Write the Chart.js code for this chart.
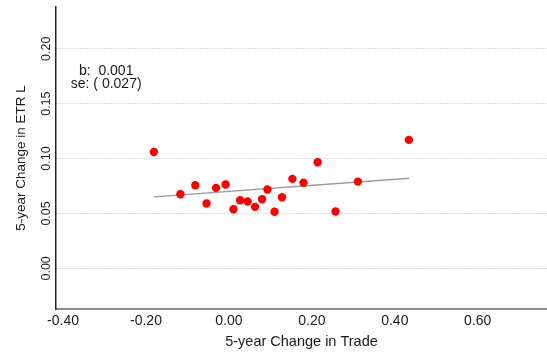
<!DOCTYPE html>
<html>
<head>
<meta charset="utf-8">
<script src="https://cdn.jsdelivr.net/npm/chart.js@4/dist/chart.umd.min.js"></script>
<style>
  html, body { margin: 0; padding: 0; background: #fff; }
  #wrap { width: 547px; height: 352px; position: relative; }
</style>
</head>
<body>
<div id="wrap"><canvas id="c" width="547" height="352"></canvas></div>
<script>
// 5-year change in trade (x) vs 5-year change in ETR L (y), one point per unit
const tradeChange = [-0.181, -0.117, -0.081, -0.054, -0.031, -0.008, 0.011, 0.027, 0.045, 0.063,
                     0.080, 0.093, 0.110, 0.128, 0.153, 0.180, 0.214, 0.257, 0.311, 0.434];
const etrChange   = [0.106, 0.0675, 0.0757, 0.059, 0.0733, 0.0764, 0.0539, 0.062, 0.0609, 0.056,
                     0.063, 0.0718, 0.0515, 0.0648, 0.0815, 0.078, 0.0966, 0.0518, 0.079, 0.117];

// fitted line end points
const fitX = [-0.181, 0.435];
const fitY = [0.0651, 0.0821];

// axis ticks
const xTickValues = [-0.4, -0.2, 0.0, 0.2, 0.4, 0.6];
const yTickValues = [0.0, 0.05, 0.10, 0.15, 0.20];

// regression summary text
const statLines = ['b:  0.001', 'se: ( 0.027)'];
const statAnchor = { x: -0.296, y: [0.1796, 0.1676] };

const FONT = '"Liberation Sans", Arial, sans-serif';
const TEXT = '#1a1a1a';

const statText = {
  id: 'statText',
  afterDatasetsDraw(chart) {
    const { ctx, scales: { x, y } } = chart;
    ctx.save();
    ctx.font = '14px ' + FONT;
    ctx.fillStyle = TEXT;
    ctx.textAlign = 'center';
    ctx.textBaseline = 'middle';
    statLines.forEach((t, i) => {
      ctx.fillText(t, x.getPixelForValue(statAnchor.x), y.getPixelForValue(statAnchor.y[i]));
    });
    ctx.restore();
  }
};

new Chart(document.getElementById('c'), {
  type: 'scatter',
  data: {
    datasets: [
      {
        type: 'line',
        data: fitX.map((v, i) => ({ x: v, y: fitY[i] })),
        borderColor: '#9a9a9a',
        borderWidth: 1.5,
        pointRadius: 0,
        fill: false,
        order: 2
      },
      {
        data: tradeChange.map((v, i) => ({ x: v, y: etrChange[i] })),
        backgroundColor: '#ff0000',
        borderColor: '#ff0000',
        borderWidth: 0,
        pointRadius: 4.2,
        order: 1
      }
    ]
  },
  options: {
    responsive: false,
    animation: false,
    layout: { autoPadding: false, padding: { top: 7, right: 0, left: 0, bottom: 0 } },
    plugins: { legend: { display: false }, tooltip: { enabled: false } },
    scales: {
      x: {
        type: 'linear',
        min: -0.417,
        max: 0.767,
        afterBuildTicks(s) { s.ticks = xTickValues.map(v => ({ value: v })); },
        afterFit(s) { s.height = 43; },
        grid: { display: false, drawTicks: false },
        border: { display: true, color: '#8c8c8c', width: 2 },
        ticks: {
          padding: 4,
          color: TEXT,
          font: { family: FONT, size: 14 },
          maxRotation: 0,
          callback: v => v.toFixed(2)
        },
        title: {
          display: true,
          text: '5-year Change in Trade',
          color: TEXT,
          font: { family: FONT, size: 14.5 },
          padding: { top: 0, bottom: 1.6 }
        }
      },
      y: {
        type: 'linear',
        min: -0.037,
        max: 0.238,
        afterBuildTicks(s) { s.ticks = yTickValues.map(v => ({ value: v })); },
        afterFit(s) { s.width = 56; },
        grid: {
          display: true,
          drawTicks: false,
          color: '#a9bcc0',
          lineWidth: 1
        },
        border: { display: true, color: '#222222', width: 1.5, dash: [1, 2] },
        ticks: {
          padding: -3,
          crossAlign: 'center',
          minRotation: 90,
          maxRotation: 90,
          color: TEXT,
          font: { family: FONT, size: 12.5 },
          callback: v => v.toFixed(2)
        },
        title: {
          display: true,
          text: '5-year Change in ETR L',
          color: TEXT,
          font: { family: FONT, size: 13.5 },
          padding: { top: 12.8, bottom: 0 }
        }
      }
    }
  },
  plugins: [statText]
});
</script>
</body>
</html>
